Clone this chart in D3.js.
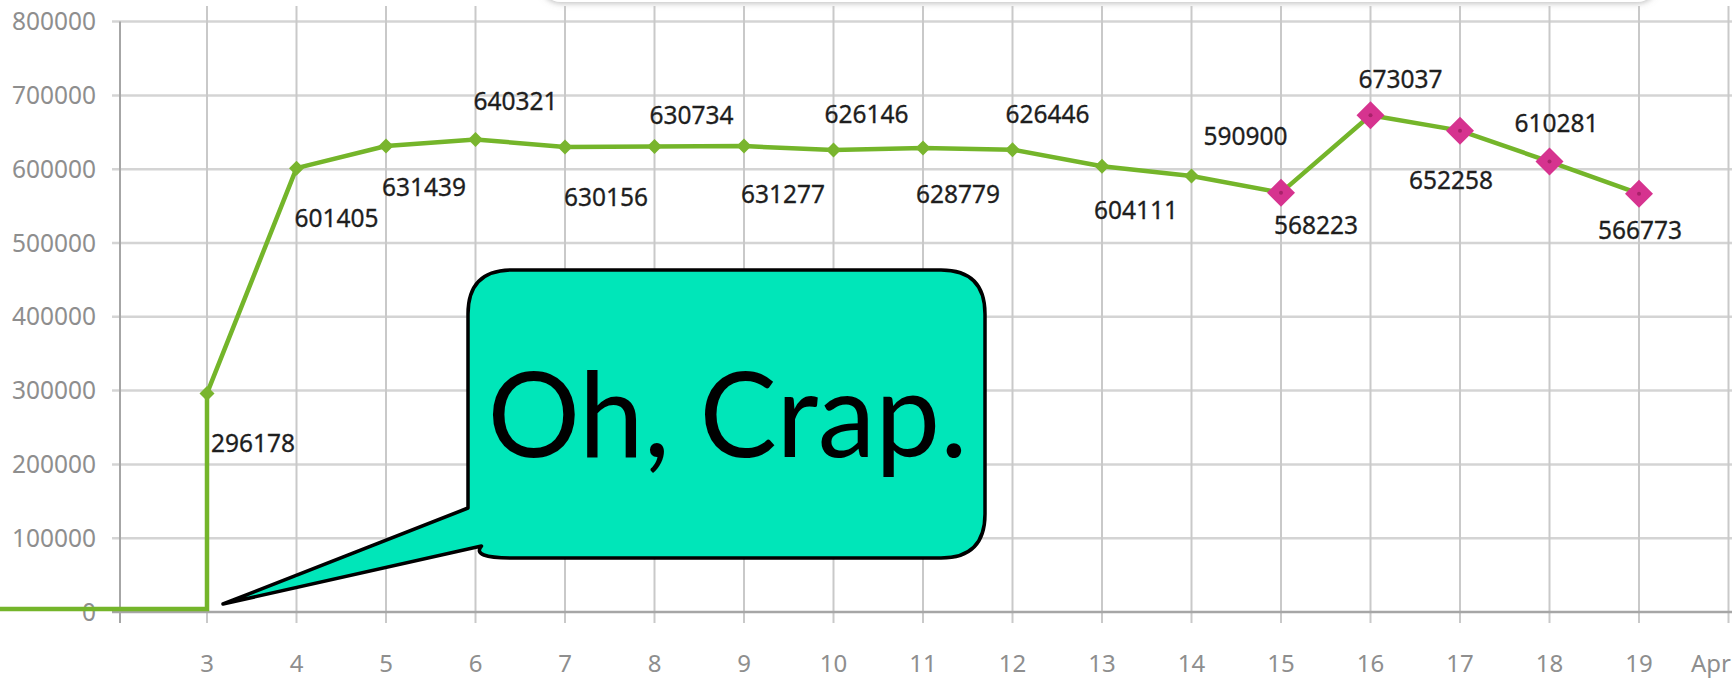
<!DOCTYPE html>
<html>
<head>
<meta charset="utf-8">
<script src="https://cdn.jsdelivr.net/npm/d3@7"></script>
<style>
  html, body { margin: 0; padding: 0; background: #fff; overflow: hidden; }
  svg { display: block; }
</style>
</head>
<body>
<svg id="chart" width="1732" height="678"></svg>
<script>
// ---------------- data ----------------
const days = [3, 4, 5, 6, 7, 8, 9, 10, 11, 12, 13, 14, 15, 16, 17, 18, 19];
const values = [296178, 601405, 631439, 640321, 630156, 630734, 631277, 626146, 628779,
                626446, 604111, 590900, 568223, 673037, 652258, 610281, 566773];
const highlightDays = [15, 16, 17, 18, 19];
const yTickValues = [0, 100000, 200000, 300000, 400000, 500000, 600000, 700000, 800000];
const xTickLabels = ["3", "4", "5", "6", "7", "8", "9", "10", "11", "12", "13", "14", "15", "16", "17", "18", "19"];
const monthLabel = "Apr";
// zero baseline before the data starts (step annotation)
const stepDays = [0, 3];
const stepValues = [0, 0];
const calloutText = "Oh, Crap.";

// ---------------- layout (label nudges, px) ----------------
const labelNudge = [[4, 50], [-2, 50], [-4, 42], [-2, -38], [-1, 51], [-5, -31], [-3, 48], [-9, -35],
                    [-7, 47], [-7, -35], [-8, 44], [12, -39], [-7, 33], [-12, -36], [-51, 50], [-35, -38], [-41, 37]];

const W = 1732, H = 678;
const svg = d3.select("#chart");
const axisX = 120;
const x = d3.scaleLinear().domain([3, 19]).range([207, 1639]);
const y = d3.scaleLinear().domain([0, 800000]).range([612, 21.6]);
const FONT = "'Noto Sans', 'Open Sans', sans-serif";

const defs = svg.append("defs");
const sh = defs.append("filter").attr("id", "shadow").attr("x", "-5%").attr("y", "-50%").attr("width", "110%").attr("height", "200%");
sh.append("feDropShadow").attr("dx", 0).attr("dy", 1).attr("stdDeviation", 3).attr("flood-color", "#888").attr("flood-opacity", 0.6);
const soft = defs.append("filter").attr("id", "soft");
soft.append("feGaussianBlur").attr("stdDeviation", 0.5);

// faint panel edge at the top
svg.append("rect").attr("x", 541).attr("y", -50).attr("width", 1116).attr("height", 52)
  .attr("rx", 20).attr("fill", "#fff").attr("filter", "url(#shadow)");

const grid = svg.append("g").attr("filter", "url(#soft)");
// horizontal gridlines
grid.selectAll("line.h").data(yTickValues.slice(1)).join("line")
  .attr("x1", axisX - 8).attr("x2", W)
  .attr("y1", d => y(d)).attr("y2", d => y(d))
  .attr("stroke", "#d4d4d4").attr("stroke-width", 2.5);
// vertical gridlines (+ one beyond the last day)
const gridDays = days.concat([20]);
grid.selectAll("line.v").data(gridDays).join("line")
  .attr("x1", d => x(d)).attr("x2", d => x(d))
  .attr("y1", 6).attr("y2", y(0) + 11)
  .attr("stroke", "#c9c9c9").attr("stroke-width", 2);
// axes
grid.append("line").attr("x1", axisX).attr("x2", axisX).attr("y1", y(800000)).attr("y2", y(0) + 11)
  .attr("stroke", "#a6a6a6").attr("stroke-width", 2);
grid.append("line").attr("x1", axisX - 8).attr("x2", W).attr("y1", y(0)).attr("y2", y(0))
  .attr("stroke", "#a6a6a6").attr("stroke-width", 2.5);

// y tick labels
svg.append("g").selectAll("text").data(yTickValues).join("text")
  .attr("x", 96).attr("y", d => y(d) + 8.5)
  .attr("text-anchor", "end")
  .attr("font-family", FONT)
  .attr("font-size", 24.5).attr("fill", "#8e8e8e")
  .text(d => d3.format("d")(d));

// x tick labels
svg.append("g").selectAll("text").data(days).join("text")
  .attr("x", d => x(d)).attr("y", 672)
  .attr("text-anchor", "middle")
  .attr("font-family", FONT)
  .attr("font-size", 24).attr("fill", "#8e8e8e")
  .text((d, i) => xTickLabels[i]);
svg.append("text").attr("x", x(19) + 52).attr("y", 672)
  .attr("font-family", FONT)
  .attr("font-size", 24).attr("fill", "#8e8e8e").text(monthLabel);

const green = "#74b52a";
// step annotation: zero line then jump up
const stepPts = stepDays.map((d, i) => [x(d), y(stepValues[i]) - 3]);
stepPts.push([x(days[0]), y(values[0])]);
svg.append("path").attr("d", d3.line()(stepPts))
  .attr("fill", "none").attr("stroke", green).attr("stroke-width", 4.5).attr("stroke-linejoin", "miter");

// main line
const pts = days.map((d, i) => ({ d, v: values[i] }));
svg.append("path").datum(pts)
  .attr("d", d3.line().x(p => x(p.d)).y(p => y(p.v)))
  .attr("fill", "none").attr("stroke", green).attr("stroke-width", 4.5).attr("stroke-linejoin", "round");

// markers
const diamond = r => `M0,${-r}L${r},0L0,${r}L${-r},0Z`;
svg.append("g").selectAll("path").data(pts.filter(p => !highlightDays.includes(p.d))).join("path")
  .attr("transform", p => `translate(${x(p.d)},${y(p.v)})`)
  .attr("d", diamond(7.5)).attr("fill", "#79b52e");
const hl = svg.append("g").selectAll("g").data(pts.filter(p => highlightDays.includes(p.d))).join("g")
  .attr("transform", p => `translate(${x(p.d)},${y(p.v)})`);
hl.append("path").attr("d", diamond(14)).attr("fill", "#d6338f");
hl.append("circle").attr("r", 2).attr("fill", "#a8226a");

// data labels
svg.append("g").selectAll("text").data(pts).join("text")
  .attr("x", (p, i) => x(p.d) + labelNudge[i][0])
  .attr("y", (p, i) => y(p.v) + labelNudge[i][1] + 8.5)
  .attr("font-family", FONT)
  .attr("font-size", 24.5).attr("fill", "#1e1e1e")
  .attr("stroke", "#1e1e1e").attr("stroke-width", 0.3)
  .text(p => p.v);

// callout bubble
const bx0 = 468, bx1 = 985, by0 = 270, by1 = 558, r = 44;
const tip = [223, 604];
const bubble = d3.path();
bubble.moveTo(bx0 + r, by0);
bubble.lineTo(bx1 - r, by0);
bubble.quadraticCurveTo(bx1, by0, bx1, by0 + r);
bubble.lineTo(bx1, by1 - r);
bubble.quadraticCurveTo(bx1, by1, bx1 - r, by1);
bubble.lineTo(bx0 + r, by1);
bubble.quadraticCurveTo(bx0 + 3, by1, 481.5, 546);
bubble.lineTo(tip[0], tip[1]);
bubble.lineTo(bx0, 508);
bubble.lineTo(bx0, by0 + r);
bubble.quadraticCurveTo(bx0, by0, bx0 + r, by0);
bubble.closePath();
svg.append("path").attr("d", bubble.toString())
  .attr("fill", "#00e6b9").attr("stroke", "#000").attr("stroke-width", 3.5).attr("stroke-linejoin", "round");

svg.append("text").attr("x", (bx0 + bx1) / 2 + 1).attr("y", 457)
  .attr("text-anchor", "middle")
  .attr("font-family", "Lato, 'Open Sans', sans-serif")
  .attr("font-size", 118).attr("fill", "#000")
  .attr("textLength", 480).attr("lengthAdjust", "spacingAndGlyphs")
  .text(calloutText);
</script>
</body>
</html>
